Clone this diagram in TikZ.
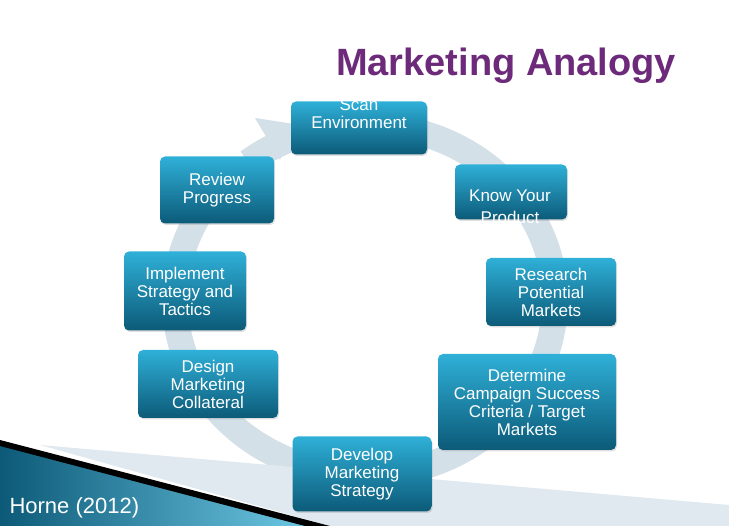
\documentclass[tikz,border=0pt]{standalone}
\usepackage{fontspec}
\setmainfont{Liberation Sans}
\usetikzlibrary{shadows}
\definecolor{boxtop}{HTML}{2FB0D8}
\definecolor{boxbot}{HTML}{0C5A78}
\definecolor{ring}{HTML}{D3E0E8}
\definecolor{ttl}{HTML}{6E2A7A}
\tikzset{
 stagebox/.style={rounded corners=5pt, top color=boxtop, bottom color=boxbot, draw=none,
   text=white, align=center, font=\fontsize{17}{18}\selectfont, inner sep=0pt,
   drop shadow={opacity=0.25, shadow xshift=1pt, shadow yshift=-1.5pt}},
 plain/.style={text=white, align=center, font=\fontsize{17}{18}\selectfont},
}
\begin{document}
\begin{tikzpicture}[x=1pt,y=-1pt]
\useasboundingbox (0,0) rectangle (729,526);
\fill[white] (0,0) rectangle (729,526);
% ring
\coordinate (c) at (365,300);
\draw[ring, line width=26pt] (c) ++(128:190pt and 175pt) arc[start angle=128, end angle=-210, x radius=190pt, y radius=175pt];
\fill[ring] (255,118) -- (294,124) -- (280,160) -- cycle;
% bottom band
\shade[left color=boxbot, right color=boxtop!70] (0,445) -- (310,526) -- (0,526) -- cycle;
\fill[ring!70] (40,445) -- (729,505) -- (729,526) -- (330,526) -- cycle;
\fill[black] (0,440) -- (330,526) -- (305,526) -- (0,446) -- cycle;
\node[text=white, anchor=west, font=\fontsize{22}{22}\selectfont] (ref) at (6,508) {Horne (2012)};
% title
\node[text=ttl, font=\bfseries\fontsize{38}{38}\selectfont] (title) at (506,66) {Marketing Analogy};
% boxes
\node[stagebox, minimum width=136pt, minimum height=53pt] (scan) at (359,128) {};
\node[plain] (scant) at (359,114) {Scan\\Environment};
\node[stagebox, minimum width=112pt, minimum height=55pt] (know) at (511,192) {};
\node[plain] (knowt) at (510,207) {Know Your\\[4pt]Product};
\node[stagebox, minimum width=130pt, minimum height=68pt] (res) at (551,292) {Research\\Potential\\Markets};
\node[stagebox, minimum width=178pt, minimum height=96pt] (det) at (527,402) {Determine\\Campaign Success\\Criteria / Target\\Markets};
\node[stagebox, minimum width=139pt, minimum height=75pt] (dev) at (362,474) {Develop\\Marketing\\Strategy};
\node[stagebox, minimum width=140pt, minimum height=68pt] (des) at (208,384) {Design\\Marketing\\Collateral};
\node[stagebox, minimum width=122pt, minimum height=79pt] (imp) at (185,291) {Implement\\Strategy and\\Tactics};
\node[stagebox, minimum width=114pt, minimum height=67pt] (rev) at (217,190) {Review\\Progress};
\end{tikzpicture}
\end{document}
